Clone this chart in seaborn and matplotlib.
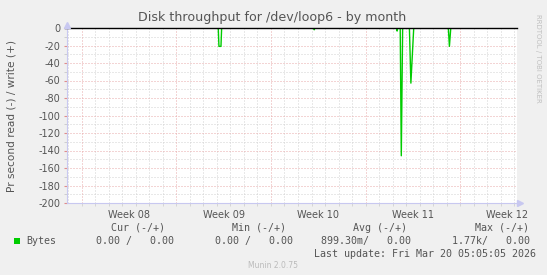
import matplotlib
matplotlib.use("Agg")
import matplotlib.pyplot as plt
from matplotlib.patches import Rectangle
import seaborn as sns
import pandas as pd

# ---- data (days since start of Week 08; bytes per second, read shown negative) ----
days = [-1.09, 10.10, 10.15, 10.30, 10.35, 17.15, 17.20, 17.25,
        23.28, 23.33, 23.38, 23.56, 23.64, 23.74, 24.24, 24.35, 24.56,
        27.12, 27.20, 27.30, 32.20]
read_values = [0, 0, -21, -21, 0, 0, -2, 0,
               0, -3.5, 0, 0, -146, 0, 0, -63, 0,
               0, -21, 0, 0]
week_labels = ["Week 08", "Week 09", "Week 10", "Week 11", "Week 12"]
week_starts = [0, 7, 14, 21, 28]
y_ticks = [0, -20, -40, -60, -80, -100, -120, -140, -160, -180, -200]

legend_headers = ["Cur (-/+)", "Min (-/+)", "Avg (-/+)", "Max (-/+)"]
legend_values = ["0.00 /   0.00", "0.00 /   0.00", "899.30m/   0.00", "1.77k/   0.00"]
series_name = "Bytes"
last_update = "Last update: Fri Mar 20 05:05:05 2026"

W, H = 547, 275
BG = "#F0F0F0"
TXT = "#555555"
GREEN = "#00CC00"
MINOR = "#d2d2d2"
MAJOR = "#e8aaaa"
DOT = (0, (1, 2))

fig = plt.figure(figsize=(W / 100, H / 100), dpi=100, facecolor=BG)
x0, x1, y0, y1 = 67, 517, 28, 203
ax = fig.add_axes([x0 / W, 1 - y1 / H, (x1 - x0) / W, (y1 - y0) / H])
ax.set_facecolor("white")

xmin, xmax = -1.09, 32.2
ax.set_xlim(xmin, xmax)
ax.set_ylim(-200, 0)

# grid
for d in range(-1, 33):
    if d in week_starts:
        continue
    ax.axvline(d, color=MINOR, lw=0.72, ls=DOT, zorder=0)
for d in week_starts:
    ax.axvline(d, color=MAJOR, lw=0.72, ls=DOT, zorder=0.5)
for yv in range(-190, 0, 20):
    ax.axhline(yv, color=MINOR, lw=0.72, ls=DOT, zorder=0)
for yv in y_ticks[1:]:
    ax.axhline(yv, color=MAJOR, lw=0.72, ls=DOT, zorder=0.5)

df = pd.DataFrame({"day": days, "value": read_values})
sns.lineplot(data=df, x="day", y="value", ax=ax, color=GREEN, lw=1.0,
             estimator=None, sort=False, zorder=3)
ax.axhline(0, xmin=-0.005, color="black", lw=1.0, zorder=4, clip_on=False)

# spines
for s in ["top", "right"]:
    ax.spines[s].set_visible(False)
ax.spines["left"].set_color("#c8c8f0")
ax.spines["bottom"].set_color("#c8c8f0")
ax.spines["left"].set_linewidth(0.8)
ax.spines["bottom"].set_linewidth(0.8)
ax.spines["left"].set_bounds(-200, 3.5)
# arrows
ax.plot([xmin], [3.2], marker="^", color="#c8c8f0", ms=4, clip_on=False, zorder=5)
ax.plot([xmax + 0.25], [-200], marker=">", color="#c8c8f0", ms=4, clip_on=False, zorder=5)

# ticks
ax.set_yticks(y_ticks)
ax.set_yticklabels([str(v) for v in y_ticks])
ax.tick_params(axis="y", length=2, color="#e08c8c", labelsize=7, labelcolor=TXT, pad=3)
ax.set_yticks(list(range(-190, 0, 20)), minor=True)
ax.tick_params(axis="y", which="minor", length=2, color="#c8c8c8")
ax.set_xticks([w + 3.5 for w in week_starts])
ax.set_xticklabels(week_labels)
ax.tick_params(axis="x", length=0, labelsize=7, labelcolor=TXT, pad=5)
ax.set_xticks(list(range(0, 33)), minor=True)
ax.tick_params(axis="x", which="minor", length=2, color="#d0d0d0")
for t, loc in zip(ax.xaxis.get_minor_ticks(), range(0, 33)):
    if loc in week_starts:
        t.tick1line.set_color("#e08080")
ax.set_xlabel("")
ax.set_ylabel("")


def px(x, y):
    return x / W, 1 - y / H


fig.text(*px(272, 18), "Disk throughput for /dev/loop6 - by month", ha="center", va="center",
         fontsize=9.1, color=TXT)
fig.text(*px(12, 116), "Pr second read (-) / write (+)", rotation=90, ha="center", va="center",
         fontsize=7.6, color=TXT)
fig.text(*px(538, 58), "RRDTOOL / TOBI OETIKER", rotation=270, ha="center", va="center",
         fontsize=5.0, color="#c0c0c0")

mono = "DejaVu Sans Mono"
hdr_right = [165, 286, 407, 529]
val_right = [174, 293, 411, 530]
for h, xr in zip(legend_headers, hdr_right):
    fig.text(*px(xr, 228), h, ha="right", va="center", fontsize=7.2, family=mono, color=TXT)
for v, xr in zip(legend_values, val_right):
    fig.text(*px(xr, 241), v, ha="right", va="center", fontsize=7.2, family=mono, color=TXT)
fig.patches.append(Rectangle(px(14, 244), 6 / W, 6 / H, transform=fig.transFigure,
                             facecolor=GREEN, edgecolor="none"))
fig.text(*px(26, 241), series_name, ha="left", va="center", fontsize=7.2, family=mono, color=TXT)
fig.text(*px(536, 254), last_update, ha="right", va="center", fontsize=7.2, family=mono, color=TXT)
fig.text(*px(273, 266), "Munin 2.0.75", ha="center", va="center", fontsize=5.5, color="#bbbbbb")

fig.savefig("out.png", dpi=100, facecolor=BG)
